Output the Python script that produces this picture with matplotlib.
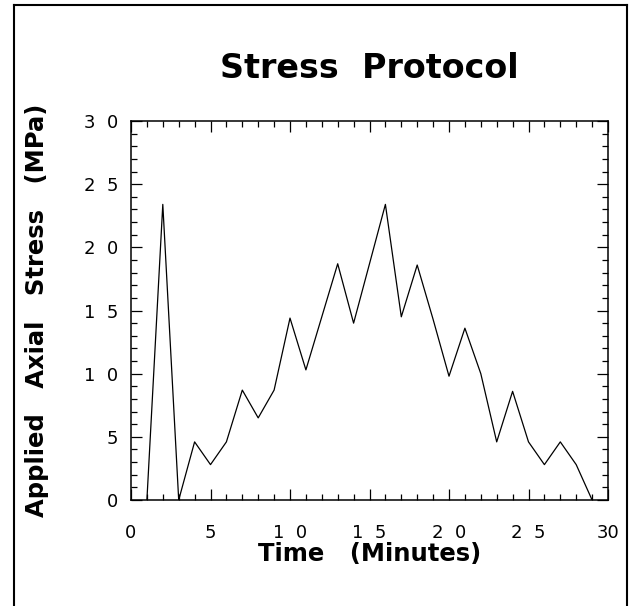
import matplotlib
matplotlib.use("Agg")
import matplotlib.pyplot as plt
from matplotlib.lines import Line2D
from matplotlib.ticker import MultipleLocator

# stress protocol (minutes, MPa)
time_min = [1, 2, 3, 4, 5, 6, 7, 8, 9, 10, 11, 13, 14, 16, 17, 18, 19, 20,
            21, 22, 23, 24, 25, 26, 27, 28, 29]
stress_mpa = [0, 23.4, 0, 4.6, 2.8, 4.6, 8.7, 6.5, 8.7, 14.4, 10.3, 18.7, 14.0,
              23.4, 14.5, 18.6, 14.3, 9.8, 13.6, 10.0, 4.6, 8.6, 4.6, 2.8,
              4.6, 2.8, 0]

x_ticks = [0, 5, 10, 15, 20, 25, 30]
x_tick_labels = ["0", "5", "1  0", "1  5", "2  0", "2  5", "30"]
y_ticks = [0, 5, 10, 15, 20, 25, 30]
y_tick_labels = ["0", "5", "1  0", "1  5", "2  0", "2  5", "3  0"]

plt.rcParams["font.family"] = "DejaVu Sans"

fig = plt.figure(figsize=(6.32, 6.06), dpi=100)
ax = fig.add_axes([131 / 632, 1 - 500 / 606, 477 / 632, 379 / 606])

ax.plot(time_min, stress_mpa, color="black", linewidth=0.9)

ax.set_xlim(0, 30)
ax.set_ylim(0, 30)
ax.set_xticks(x_ticks)
ax.set_xticklabels(x_tick_labels)
ax.set_yticks(y_ticks)
ax.set_yticklabels(y_tick_labels)
ax.xaxis.set_minor_locator(MultipleLocator(1))
ax.yaxis.set_minor_locator(MultipleLocator(1))
ax.tick_params(which="both", direction="in", top=True, right=True, width=0.9, labelsize=13)
ax.tick_params(which="major", length=8)
ax.tick_params(which="minor", length=4.5)
ax.tick_params(axis="x", which="major", pad=17)
ax.tick_params(axis="y", which="major", pad=9)
for sp in ax.spines.values():
    sp.set_linewidth(1.1)

ax.set_title("Stress  Protocol", fontsize=24, fontweight="bold", pad=31)
ax.set_xlabel("Time   (Minutes)", fontsize=17.5, fontweight="bold", labelpad=0)
ax.set_ylabel("Applied   Axial   Stress   (MPa)", fontsize=17.5, fontweight="bold", labelpad=25)

# outer frame (open at the bottom, as in the scan)
fl, fr, ft = 14 / 632, 627 / 632, 1 - 5 / 606
for xs, ys in [([fl, fl], [0, ft]), ([fl, fr], [ft, ft]), ([fr, fr], [ft, 0])]:
    fig.add_artist(Line2D(xs, ys, color="black", linewidth=1.5, transform=fig.transFigure))

fig.savefig("out.png", dpi=100)
